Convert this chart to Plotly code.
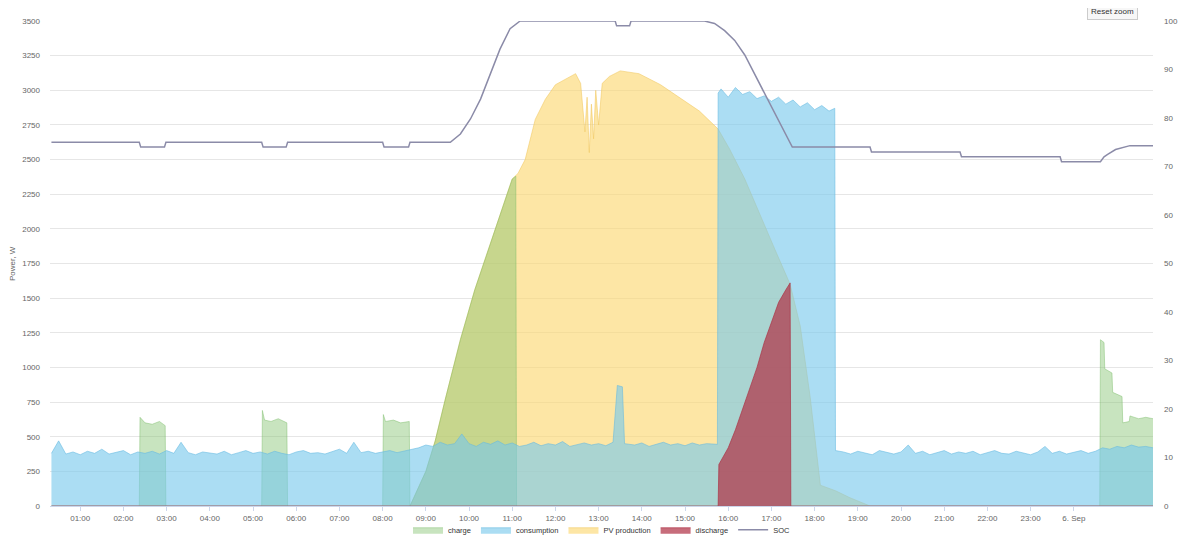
import pandas as pd
import plotly.graph_objects as go

# Day 5 Sep; "24:37" etc. means the next day (6 Sep)
DAY = pd.Timestamp("2020-09-05")

consumption_time = [
    "00:20", "00:30", "00:40", "00:50", "01:00", "01:10", "01:20", "01:30", "01:40", "01:50",
    "02:00", "02:10", "02:20", "02:30", "02:40", "02:50", "03:00", "03:10", "03:20", "03:30",
    "03:40", "03:50", "04:00", "04:10", "04:20", "04:30", "04:40", "04:50", "05:00", "05:10",
    "05:20", "05:30", "05:40", "05:50", "06:00", "06:10", "06:20", "06:30", "06:40", "06:50",
    "07:00", "07:10", "07:20", "07:30", "07:40", "07:50", "08:00", "08:10", "08:20", "08:30",
    "08:40", "08:50", "09:00", "09:10", "09:20", "09:30", "09:40", "09:50", "10:00", "10:10",
    "10:20", "10:30", "10:40", "10:50", "11:00", "11:10", "11:20", "11:30", "11:40", "11:50",
    "12:00", "12:10", "12:20", "12:30", "12:40", "12:50", "13:00", "13:10", "13:20", "13:26",
    "13:33", "13:36", "13:50", "14:00", "14:10", "14:20", "14:30", "14:40", "14:50", "15:00",
    "15:10", "15:20", "15:30", "15:45", "15:46", "15:50", "16:00", "16:10", "16:20", "16:30",
    "16:40", "16:50", "17:00", "17:10", "17:20", "17:30", "17:40", "17:50", "18:00", "18:10",
    "18:20", "18:28", "18:29", "18:40", "18:50", "19:00", "19:10", "19:20", "19:30", "19:40",
    "19:50", "20:00", "20:10", "20:20", "20:30", "20:40", "20:50", "21:00", "21:10", "21:20",
    "21:30", "21:40", "21:50", "22:00", "22:10", "22:20", "22:30", "22:40", "22:50", "23:00",
    "23:10", "23:20", "23:30", "23:40", "23:50", "24:00", "24:10", "24:20", "24:30", "24:40",
    "24:50", "25:00", "25:10", "25:20", "25:30", "25:40", "25:50",
]
consumption = [
    380, 470, 375, 390, 370, 395, 380, 410, 375, 385,
    400, 370, 390, 380, 395, 375, 400, 380, 460, 385,
    370, 390, 380, 375, 395, 370, 385, 400, 380, 390,
    375, 395, 380, 370, 390, 400, 380, 385, 375, 395,
    410, 380, 460, 385, 395, 380, 390, 400, 385, 395,
    410, 420, 440, 430, 460, 440, 450, 520, 450, 430,
    460, 445, 470, 440, 455, 430, 440, 460, 435, 450,
    440, 465, 430, 445, 455, 440, 450, 435, 460, 870,
    860, 450, 440, 455, 430, 445, 460, 440, 450, 435,
    455, 440, 450, 445, 2980, 3010, 2950, 3020, 2970, 2990,
    2940, 2960, 2920, 2950, 2900, 2930, 2880, 2910, 2860, 2890,
    2850, 2870, 400, 390, 375, 395, 380, 370, 400, 385,
    375, 390, 440, 380, 395, 370, 385, 400, 375, 390,
    380, 395, 370, 385, 400, 380, 375, 395, 385, 370,
    390, 430, 380, 395, 375, 385, 400, 380, 395, 420,
    410, 430, 420, 440, 425, 430, 420,
]

charge_time = [
    "00:20", "02:22", "02:23", "02:30", "02:40", "02:50", "02:58", "02:59",
    "05:12", "05:13", "05:16", "05:25", "05:35", "05:47", "05:48",
    "08:00", "08:01", "08:04", "08:15", "08:25", "08:37", "08:38",
    "09:00", "09:13", "09:27", "09:48", "10:08", "10:29", "10:50", "11:00", "11:05", "11:06",
    "24:36", "24:37", "24:42", "24:43", "24:53", "24:54", "25:07", "25:08", "25:17", "25:18",
    "25:30", "25:40", "25:50",
]
charge = [
    0, 0, 640, 600, 590, 610, 580, 0,
    0, 690, 620, 610, 630, 600, 0,
    0, 660, 610, 620, 600, 610, 0,
    250, 470, 770, 1200, 1560, 1890, 2210, 2360, 2380, 0,
    0, 1200, 1180, 990, 960, 820, 790, 600, 610, 650,
    630, 640, 630,
]

pv_time = [
    "00:20", "08:38", "09:00", "09:13", "09:27", "09:48", "10:08", "10:29", "10:50", "11:00",
    "11:08", "11:18", "11:32", "11:46", "12:00", "12:14", "12:28", "12:35", "12:41", "12:44",
    "12:47", "12:50", "12:53", "12:56", "13:00", "13:05", "13:15", "13:30", "13:56", "14:26",
    "14:52", "15:20", "15:46", "16:02", "16:23", "16:44", "17:05", "17:26", "17:40", "17:54",
    "18:08", "18:29", "18:49", "19:17", "25:50",
]
pv_production = [
    0, 0, 250, 470, 770, 1200, 1560, 1890, 2210, 2360,
    2400, 2500, 2790, 2935, 3040, 3080, 3120, 3050, 2700, 2950,
    2550, 2900, 2650, 3000, 2750, 3050, 3100, 3140, 3120, 3040,
    2950, 2850, 2720, 2575, 2360, 2100, 1850, 1600, 1300, 780,
    150, 110, 60, 0, 0,
]

discharge_time = [
    "00:20", "15:46", "15:47", "16:00", "16:10", "16:20", "16:30", "16:40",
    "16:50", "17:00", "17:10", "17:20", "17:26", "17:27", "25:50",
]
discharge = [0, 0, 300, 420, 550, 700, 850, 1000, 1180, 1330, 1470, 1560, 1610, 0, 0]

soc_time = [
    "00:20", "02:22", "02:24", "02:57", "02:59", "05:12", "05:14", "05:46", "05:48", "08:00",
    "08:02", "08:36", "08:38", "09:34", "09:48", "10:02", "10:16", "10:29", "10:43", "10:57",
    "11:11", "13:23", "13:25", "13:43", "13:45", "15:27", "15:41", "15:55", "16:09", "16:23",
    "16:37", "16:51", "17:05", "17:19", "17:29", "19:17", "19:19", "21:22", "21:24", "23:41",
    "23:43", "24:37", "24:42", "24:47", "24:52", "24:58", "25:18", "25:50",
]
soc = [
    75, 75, 74, 74, 75, 75, 74, 74, 75, 75,
    74, 74, 75, 75, 76.7, 79.8, 83.9, 89, 94.2, 98.4,
    100, 100, 99, 99, 100, 100, 99.5, 98, 96, 93,
    89, 85, 81, 77, 74, 74, 73, 73, 72, 72,
    71, 71, 72, 72.5, 73, 73.5, 74.3, 74.3,
]

tick_hours = list(range(1, 25))
tick_labels = [
    "01:00", "02:00", "03:00", "04:00", "05:00", "06:00", "07:00", "08:00",
    "09:00", "10:00", "11:00", "12:00", "13:00", "14:00", "15:00", "16:00",
    "17:00", "18:00", "19:00", "20:00", "21:00", "22:00", "23:00", "6. Sep",
]


def toTime(label):
    """
    Turns "HH:MM" (hours may run past 24) into a timestamp.
    """
    h, m = label.split(":")
    return DAY + pd.Timedelta(hours=int(h), minutes=int(m))


def areaTrace(times, values, name, fill, line, rank):
    return go.Scatter(
        x=[toTime(t) for t in times],
        y=values,
        name=name,
        mode="lines",
        fill="tozeroy",
        fillcolor=fill,
        line=dict(color=line, width=0.8),
        legendrank=rank,
    )


fig = go.Figure()

# drawn in this order so the overlaps mix like the original
fig.add_trace(areaTrace(pv_time, pv_production, "PV production",
                        "rgba(251,214,110,0.62)", "rgba(240,200,95,0.7)", 3))
fig.add_trace(areaTrace(charge_time, charge, "charge",
                        "rgba(132,196,112,0.45)", "rgba(120,185,100,0.55)", 1))
fig.add_trace(areaTrace(consumption_time, consumption, "consumption",
                        "rgba(120,200,235,0.62)", "rgba(100,185,225,0.7)", 2))
fig.add_trace(areaTrace(discharge_time, discharge, "discharge",
                        "rgba(178,52,72,0.72)", "rgba(170,45,65,0.8)", 4))

fig.add_trace(
    go.Scatter(
        x=[toTime(t) for t in soc_time],
        y=soc,
        name="SOC",
        mode="lines",
        line=dict(color="#8b8ba8", width=1.5),
        yaxis="y2",
        legendrank=5,
    )
)

# the page body has an 8px margin, so the figure is 8px smaller each way
fig.update_layout(
    width=1182,
    height=539,
    margin=dict(l=42, r=37, t=13, b=41, autoexpand=False),
    paper_bgcolor="white",
    plot_bgcolor="white",
    font=dict(family="Liberation Sans, Arial, sans-serif", size=9, color="#666666"),
    showlegend=True,
    legend=dict(
        orientation="h",
        x=0.5,
        xanchor="center",
        yref="container",
        y=0.032,
        yanchor="middle",
        bgcolor="rgba(0,0,0,0)",
        font=dict(size=7.5, color="#333333"),
        itemwidth=30,
        traceorder="normal",
    ),
    xaxis=dict(
        type="date",
        range=[toTime("00:18"), toTime("25:50")],
        tickvals=[DAY + pd.Timedelta(hours=h) for h in tick_hours],
        ticktext=tick_labels,
        showgrid=False,
        showline=True,
        linecolor="#ccd6eb",
        ticks="outside",
        tickcolor="#ccd6eb",
        ticklen=4,
        tickfont=dict(size=8, color="#666666"),
        zeroline=False,
        automargin=False,
    ),
    yaxis=dict(
        range=[0, 3500],
        dtick=250,
        showgrid=True,
        gridcolor="#e6e6e6",
        zeroline=False,
        tickfont=dict(size=8, color="#666666"),
        ticks="",
        ticklabelstandoff=9,
        automargin=False,
    ),
    yaxis2=dict(
        range=[0, 100],
        dtick=10,
        overlaying="y",
        side="right",
        showgrid=False,
        zeroline=False,
        tickfont=dict(size=8, color="#666666"),
        ticklabelstandoff=10,
        automargin=False,
    ),
)

fig.add_annotation(
    text="Power, W", textangle=-90, xref="paper", yref="paper",
    x=-0.034, y=0.5, xanchor="center", yanchor="middle",
    showarrow=False, font=dict(size=8, color="#666666"),
)
fig.add_annotation(
    text="SOC, %", textangle=90, xref="paper", yref="paper",
    x=1.03, y=0.5, xanchor="center", yanchor="middle",
    showarrow=False, font=dict(size=8, color="#666666"),
)
fig.add_annotation(
    text="Reset zoom", xref="paper", yref="paper", x=0.963, y=1.019,
    xanchor="center", yanchor="middle",
    showarrow=False, font=dict(size=8, color="#333333"),
    bgcolor="#f7f7f7", bordercolor="#cccccc", borderwidth=1, borderpad=3,
)

fig.write_html("out.html")
